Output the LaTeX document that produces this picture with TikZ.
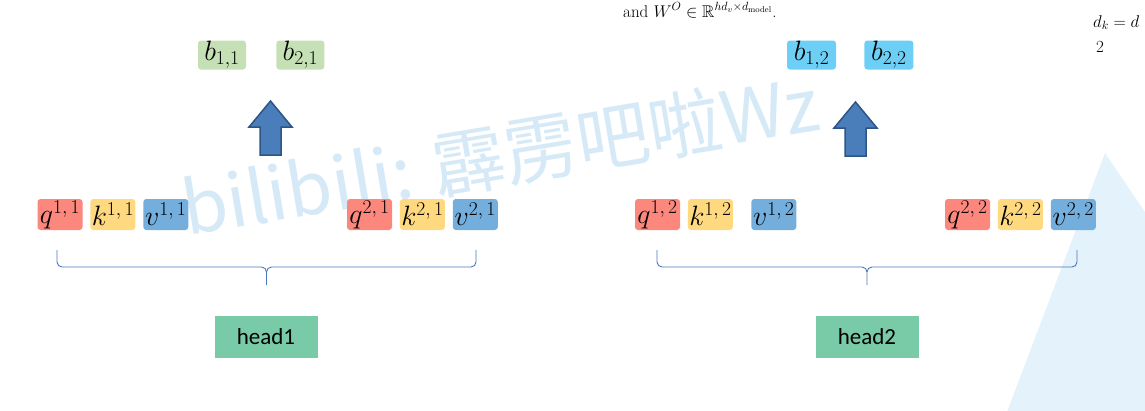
\RequirePackage{fix-cm}
\documentclass[tikz,border=0pt]{standalone}
\usepackage{amsmath}
\usepackage{amssymb}
\usepackage{fontspec}
\newfontfamily\headfont{Carlito}
\newfontfamily\cjkfont{Noto Sans CJK SC}
\usepackage{tikz}
\usetikzlibrary{positioning}

\definecolor{bgreen}{HTML}{C5E0B4}
\definecolor{bblue}{HTML}{6DCFF6}
\definecolor{qred}{HTML}{FC877C}
\definecolor{kyellow}{HTML}{FFD97F}
\definecolor{vblue}{HTML}{73AEDC}
\definecolor{headgreen}{HTML}{79CBA7}
\definecolor{arrowfill}{HTML}{4A7EBB}
\definecolor{arrowline}{HTML}{2E5486}
\definecolor{bracecol}{HTML}{4A76C0}
\definecolor{marklight}{HTML}{D6E9F7}
\definecolor{trianglecol}{HTML}{E3F2FB}

\begin{document}
\begin{tikzpicture}[x=1pt,y=-1pt,
 cell/.style={rounded corners=3pt,inner sep=0pt,minimum height=31pt,minimum width=45pt,font=\fontsize{28}{30}\selectfont},
 qbox/.style={cell,fill=qred}, kbox/.style={cell,fill=kyellow}, vbox/.style={cell,fill=vblue},
 bgbox/.style={cell,fill=bgreen,minimum width=48pt,minimum height=29pt},
 bbbox/.style={cell,fill=bblue,minimum width=49pt,minimum height=29pt},
 headbox/.style={fill=headgreen,minimum width=103pt,minimum height=42pt,inner sep=0pt,font=\headfont\fontsize{23}{26}\selectfont},
 blockarrow/.style={fill=arrowfill,draw=arrowline,line width=1.5pt,line join=miter},
 bracepath/.style={draw=bracecol,line width=0.9pt},
 watermark/.style={text=marklight,inner sep=0pt,font=\cjkfont\fontsize{73}{73}\selectfont},
 note/.style={anchor=base west,inner sep=0pt,font=\fontsize{17}{20}\selectfont}]
\useasboundingbox (0,0) rectangle (1145,410);

% background
\fill[trianglecol] (1105,153) -- (1007,412) -- (1147,412) -- (1147,215) -- cycle;
\node (mark) [watermark,rotate=9.5,anchor=base west] at (187,236) {bilibili: 霹雳吧啦Wz};

% text above
\node (note) [note] at (623,17) {and $W^O \in \mathbb{R}^{hd_v\times d_{\text{model}}}$.};
\node (dk) [note] at (1093,27) {$d_k = d$};
\node (two) [note] at (1096,52) {2};

% outputs
\node (b11) [bgbox] at (222,55) {$b_{1,1}$};
\node (b21) [bgbox,right=30pt of b11] {$b_{2,1}$};
\node (b12) [bbbox] at (811.5,55) {$b_{1,2}$};
\node (b22) [bbbox,right=28pt of b12] {$b_{2,2}$};

% q k v of head 1
\node (q11) [qbox] at (60,214.5) {$q^{1,\,1}$};
\node (k11) [kbox,right=7.5pt of q11] {$k^{1,\,1}$};
\node (v11) [vbox,right=7.5pt of k11] {$v^{1,\,1}$};
\node (q21) [qbox] at (369.5,214.5) {$q^{2,\,1}$};
\node (k21) [kbox,right=7.5pt of q21] {$k^{2,\,1}$};
\node (v21) [vbox,right=7.5pt of k21] {$v^{2,\,1}$};

% q k v of head 2
\node (q12) [qbox] at (657.5,214.5) {$q^{1,\,2}$};
\node (k12) [kbox,right=7.5pt of q12] {$k^{1,\,2}$};
\node (v12) [vbox,right=18pt of k12] {$v^{1,\,2}$};
\node (q22) [qbox] at (967.5,214.5) {$q^{2,\,2}$};
\node (k22) [kbox,right=7.5pt of q22] {$k^{2,\,2}$};
\node (v22) [vbox,right=7.5pt of k22] {$v^{2,\,2}$};

\node (head1) [headbox] at (266,337) {head1};
\node (head2) [headbox] at (867,337) {head2};

% block arrows
\foreach \ax/\ay in {270.5/101, 855.5/102}
  \draw[blockarrow] ({\ax-10.5},{\ay+54}) -- ({\ax-10.5},{\ay+26}) -- ({\ax-21.5},{\ay+26}) -- (\ax,\ay)
    -- ({\ax+21.5},{\ay+26}) -- ({\ax+10.5},{\ay+26}) -- ({\ax+10.5},{\ay+54}) -- cycle;

% braces
\foreach \bl/\br/\bm in {57/476/266.5, 657/1077/867}
{
  \draw[bracepath] (\bl,250) -- (\bl,262) to[out=-90,in=180] ({\bl+5},267) -- ({\bm-5},267)
    to[out=0,in=90] (\bm,272) -- (\bm,285);
  \draw[bracepath] (\bm,272) to[out=90,in=180] ({\bm+5},267) -- ({\br-5},267)
    to[out=0,in=-90] (\br,262) -- (\br,250);
}
\end{tikzpicture}
\end{document}
